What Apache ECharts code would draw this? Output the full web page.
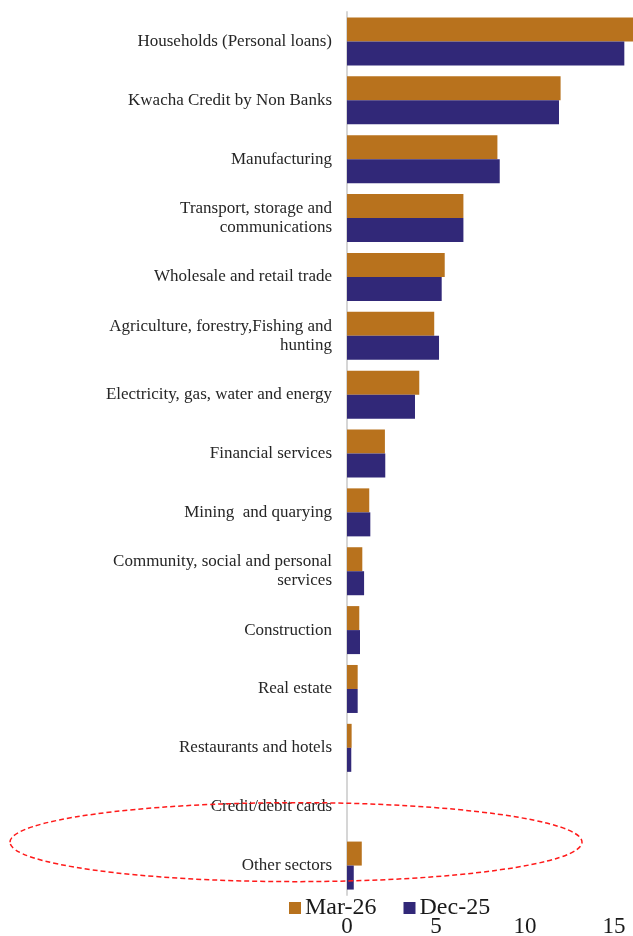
<!DOCTYPE html>
<html>
<head>
<meta charset="utf-8">
<style>
  html, body { margin: 0; padding: 0; background: #ffffff; }
  #chart { width: 633px; height: 936px; }
</style>
<script src="https://cdn.jsdelivr.net/npm/echarts@6/dist/echarts.min.js"></script>
</head>
<body>
<div id="chart"></div>
<script>
// Sector names, top to bottom
const sectors = [
  'Households (Personal loans)',
  'Kwacha Credit by Non Banks',
  'Manufacturing',
  'Transport, storage and\ncommunications',
  'Wholesale and retail trade',
  'Agriculture, forestry,Fishing and\nhunting',
  'Electricity, gas, water and energy',
  'Financial services',
  'Mining  and quarying',
  'Community, social and personal\nservices',
  'Construction',
  'Real estate',
  'Restaurants and hotels',
  'Credit/debit cards',
  'Other sectors'
];

// Share of lending per sector
const mar26 = [16.3, 12.0, 8.45, 6.54, 5.49, 4.9, 4.06, 2.13, 1.25, 0.86, 0.69, 0.6, 0.26, 0, 0.83];
const dec25 = [15.58, 11.91, 8.58, 6.54, 5.32, 5.17, 3.82, 2.15, 1.31, 0.96, 0.73, 0.6, 0.24, 0, 0.38];

const seriesNames = ['Mar-26', 'Dec-25'];
const seriesColors = ['#B8721D', '#312878'];

const xMin = 0;
const xMax = 20;
const xStep = 5;

const serif = '"Liberation Serif", "DejaVu Serif", serif';

const chart = echarts.init(document.getElementById('chart'), null, { renderer: 'canvas' });

chart.setOption({
  backgroundColor: '#ffffff',
  animation: false,
  grid: {
    left: 347, top: 12, width: 356, height: 883,
    containLabel: false,
    outerBoundsMode: 'none'
  },
  legend: {
    data: seriesNames,
    left: 289,
    top: 896,
    padding: 0,
    itemWidth: 12,
    itemHeight: 12,
    itemGap: 27,
    icon: 'rect',
    textStyle: { fontFamily: serif, fontSize: 24, color: '#1a1a1a', padding: [0, 0, 0, -1] }
  },
  xAxis: {
    type: 'value',
    min: xMin,
    max: xMax,
    interval: xStep,
    axisLine: { show: false },
    axisTick: { show: false },
    splitLine: { show: false },
    axisLabel: {
      margin: 20,
      fontFamily: serif,
      fontSize: 23,
      color: '#1a1a1a'
    }
  },
  yAxis: {
    type: 'category',
    data: sectors,
    inverse: true,
    axisLine: { show: true, lineStyle: { color: '#d6d6d6', width: 2 } },
    axisTick: { show: false },
    axisLabel: {
      margin: 15,
      fontFamily: serif,
      fontSize: 17,
      lineHeight: 19,
      padding: [9, 0, 0, 0],
      color: '#262626'
    }
  },
  series: [
    {
      name: seriesNames[0],
      type: 'bar',
      data: mar26,
      barWidth: 24,
      barGap: '0%',
      itemStyle: { color: seriesColors[0] }
    },
    {
      name: seriesNames[1],
      type: 'bar',
      data: dec25,
      barWidth: 24,
      barGap: '0%',
      itemStyle: { color: seriesColors[1] }
    }
  ]
});

// Dashed red ellipse highlighting the last two sectors
const yA = chart.convertToPixel({ yAxisIndex: 0 }, sectors[13]);
const yB = chart.convertToPixel({ yAxisIndex: 0 }, sectors[14]);
chart.setOption({
  graphic: [{
    type: 'ellipse',
    z: 100,
    shape: { cx: 296, cy: (yA + yB) / 2 + 6, rx: 286, ry: 39.5 },
    style: { fill: 'none', stroke: '#ff1a1a', lineWidth: 1.5, lineDash: [5, 3] }
  }]
});
</script>
</body>
</html>
